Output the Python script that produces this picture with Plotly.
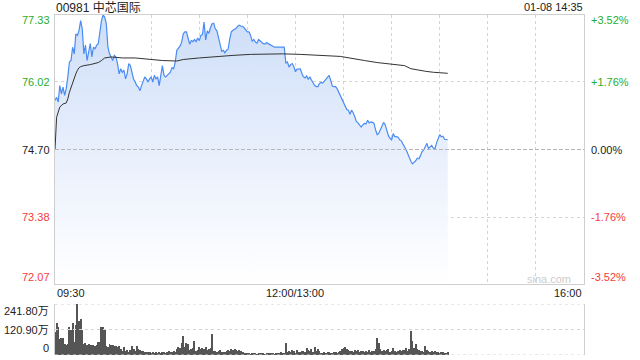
import plotly.graph_objects as go

title_text = "00981 中芯国际"
stamp_text = "01-08 14:35"
prev_close = 74.70
price_ticks = [77.33, 76.02, 74.70, 73.38, 72.07]
price_tick_labels = ["77.33", "76.02", "74.70", "73.38", "72.07"]
pct_tick_labels = ["+3.52%", "+1.76%", "0.00%", "-1.76%", "-3.52%"]
tick_colors = ["#1fae2e", "#1fae2e", "#222222", "#f23c3c", "#f23c3c"]
time_pos = [0, 150, 330]
time_labels = ["09:30", "12:00/13:00", "16:00"]
vol_ticks = [241.80, 120.90, 0]
vol_tick_labels = ["241.80万", "120.90万", "0"]

# minute-by-minute last price, 09:30 .. 14:35 (minutes since open, lunch removed)
price = [
    75.66, 75.72, 75.63, 75.95, 75.79, 75.92, 75.76, 75.89, 76.12, 76.41,
    76.44, 76.70, 76.57, 76.96, 76.93, 77.03, 77.22, 77.06, 76.57, 76.74,
    76.44, 76.64, 76.77, 76.51, 76.70, 76.67, 76.74, 76.77, 77.03, 77.22,
    77.33, 77.29, 77.16, 76.70, 76.57, 76.51, 76.44, 76.54, 76.51, 76.38,
    76.18, 76.28, 76.21, 76.25, 76.08, 76.18, 76.38, 76.34, 76.21, 76.08,
    76.02, 75.95, 75.92, 75.85, 75.95, 76.05, 76.12, 76.08, 76.02, 76.08,
    76.12, 76.02, 76.15, 76.08, 76.12, 75.95, 76.18, 76.34, 76.15, 76.12,
    76.15, 76.18, 76.21, 76.30, 76.28, 76.41, 76.64, 76.68, 76.72, 76.80,
    76.96, 77.00, 77.00, 76.88, 76.76, 76.83, 76.81, 76.85, 76.81, 76.88,
    76.83, 76.93, 76.95, 77.19, 76.84, 77.02, 76.97, 77.08, 77.16, 77.17,
    77.06, 77.02, 76.90, 76.74, 76.62, 76.64, 76.59, 76.64, 76.66, 76.86,
    77.00, 77.03, 77.05, 77.07, 77.11, 77.13, 77.11, 77.11, 77.08, 77.03,
    77.00, 77.00, 76.93, 76.82, 76.85, 76.80, 76.78, 76.85, 76.82, 76.80,
    76.77, 76.76, 76.79, 76.77, 76.75, 76.73, 76.71, 76.70, 76.70, 76.70,
    76.70, 76.70, 76.70, 76.70, 76.39, 76.41, 76.31, 76.36, 76.38, 76.32,
    76.22, 76.27, 76.27, 76.28, 76.19, 76.12, 76.10, 76.14, 76.07, 76.12,
    76.06, 76.01, 75.95, 75.93, 75.93, 75.99, 76.01, 76.00, 76.04, 76.08,
    76.12, 76.15, 76.05, 75.94, 75.93, 75.93, 75.89, 75.82, 75.75, 75.67,
    75.62, 75.54, 75.48, 75.47, 75.39, 75.47, 75.42, 75.34, 75.25, 75.22,
    75.17, 75.14, 75.18, 75.21, 75.20, 75.27, 75.22, 75.24, 75.23, 75.21,
    75.08, 74.99, 75.02, 75.10, 75.18, 75.23, 75.18, 75.05, 74.97, 74.92,
    74.89, 75.01, 74.95, 74.95, 74.94, 74.89, 74.87, 74.81, 74.76, 74.70,
    74.62, 74.54, 74.47, 74.42, 74.45, 74.48, 74.53, 74.52, 74.58, 74.66,
    74.69, 74.77, 74.82, 74.72, 74.75, 74.78, 74.73, 74.71, 74.83, 74.93,
    74.99, 74.95, 74.96, 74.90, 74.89, 74.89,
]

# volume per minute, in 万 shares
volume = [
    107, 151, 135, 74, 82, 82, 53, 49, 53, 132,
    118, 151, 61, 143, 242, 160, 171, 118, 53, 56,
    49, 53, 49, 48, 49, 44, 48, 61, 61, 135,
    132, 122, 44, 36, 53, 49, 49, 44, 41, 36,
    44, 28, 20, 36, 20, 23, 16, 23, 44, 28,
    20, 44, 30, 25, 18, 20, 15, 14, 12, 16,
    10, 12, 9, 14, 11, 13, 10, 12, 15, 10,
    14, 18, 13, 16, 20, 15, 28, 40, 35, 55,
    90, 40, 58, 50, 25, 30, 35, 66, 20, 25,
    40, 28, 35, 30, 40, 25, 30, 35, 99, 20,
    20, 15, 18, 22, 14, 16, 12, 18, 25, 20,
    28, 22, 30, 25, 20, 22, 18, 15, 10, 6,
    8, 5, 4, 6, 5, 7, 4, 5, 6, 8,
    5, 4, 6, 5, 7, 5, 6, 4, 8, 6,
    10, 12, 8, 8, 58, 15, 20, 12, 25, 18,
    10, 22, 15, 12, 18, 20, 14, 35, 25, 18,
    30, 15, 40, 20, 28, 18, 10, 8, 12, 10,
    15, 12, 8, 10, 12, 15, 10, 12, 20, 30,
    35, 40, 30, 22, 18, 20, 15, 22, 18, 25,
    15, 20, 18, 14, 20, 16, 22, 15, 18, 20,
    30, 79, 58, 30, 20, 25, 18, 22, 30, 15,
    20, 35, 18, 15, 20, 25, 18, 22, 25, 35,
    20, 30, 115, 66, 35, 50, 30, 25, 20, 18,
    15, 45, 22, 18, 15, 20, 15, 18, 12, 15,
    10, 12, 15, 8, 10, 12,
]

avg_minute = [0, 1, 3, 5, 7, 8, 9, 10, 11, 12, 13, 14, 15, 16, 18, 22, 25, 27, 29, 31,
              35, 42, 50, 56, 62, 67, 76, 80, 90, 101, 111, 122, 142, 153, 163, 178,
              193, 201, 218, 222, 231, 236, 245]
avg_price = [74.70, 75.33, 75.53, 75.59, 75.61, 75.69, 75.82, 75.92, 76.02, 76.11,
             76.18, 76.25, 76.30, 76.32, 76.34, 76.36, 76.38, 76.40, 76.44, 76.49,
             76.51, 76.49, 76.49, 76.47, 76.46, 76.44, 76.43, 76.46, 76.49, 76.52,
             76.54, 76.56, 76.57, 76.56, 76.54, 76.52, 76.44, 76.40, 76.34, 76.28,
             76.23, 76.21, 76.19]

minutes = list(range(len(price)))
vol_minutes = list(range(len(volume)))

W, H = 640, 360
def px(x):
    return x / W
def py(y):
    return 1 - y / H

FONT = "Arial, Liberation Sans, Noto Sans CJK SC, sans-serif"
GRID = "#d4d4d4"
BORDER = "#cfcfcf"

fig = go.Figure()

fig.add_trace(go.Scatter(
    x=minutes, y=price, mode="lines",
    line=dict(color="#4a8cf2", width=1.2),
    fill="tozeroy",
    fillgradient=dict(type="vertical", start=price_ticks[-1], stop=price_ticks[0],
                      colorscale=[[0, "#ffffff"], [0.5, "#e8effc"], [1, "#cddef8"]]),
    xaxis="x", yaxis="y", hoverinfo="skip", showlegend=False,
))
fig.add_trace(go.Scatter(
    x=avg_minute, y=avg_price, mode="lines",
    line=dict(color="#333333", width=1),
    xaxis="x", yaxis="y", hoverinfo="skip", showlegend=False,
))
fig.add_trace(go.Bar(
    x=vol_minutes, y=volume, width=0.62,
    marker=dict(color="#555555", line=dict(width=0)),
    xaxis="x2", yaxis="y2", hoverinfo="skip", showlegend=False,
))

xdom = [px(55), px(584)]
fig.update_layout(
    width=W, height=H,
    margin=dict(l=0, r=0, t=0, b=0),
    paper_bgcolor="white", plot_bgcolor="white",
    font=dict(family=FONT, size=11, color="#222"),
    bargap=0,
    xaxis=dict(domain=xdom, range=[0, 330], anchor="y",
               tickvals=list(range(30, 330, 30)), showticklabels=False, ticks="",
               showgrid=True, gridcolor=GRID, griddash="dot", gridwidth=1,
               showline=True, mirror=True, linecolor=BORDER, linewidth=1,
               zeroline=False, fixedrange=True),
    yaxis=dict(domain=[py(284), py(15)], range=[price_ticks[-1], price_ticks[0]],
               anchor="x", tickvals=[price_ticks[1], price_ticks[3]],
               showticklabels=False, ticks="",
               showgrid=True, gridcolor=GRID, griddash="dot", gridwidth=1,
               showline=True, mirror=True, linecolor=BORDER, linewidth=1,
               zeroline=False, fixedrange=True),
    xaxis2=dict(domain=xdom, range=[0, 330], anchor="y2",
                showticklabels=False, ticks="", showgrid=False,
                showline=False, zeroline=False, fixedrange=True),
    yaxis2=dict(domain=[py(355), py(304)], range=[0, vol_ticks[0]], anchor="x2",
                showticklabels=False, ticks="", showgrid=False,
                showline=True, mirror=True, linecolor=BORDER, linewidth=1,
                zeroline=False, fixedrange=True),
)

shapes = [dict(type="line", xref="x domain", yref="y", x0=0, x1=1,
               y0=prev_close, y1=prev_close,
               line=dict(color="#b5b5b5", width=1, dash="4px,2px"))]
for v in vol_ticks:
    shapes.append(dict(type="line", xref="x2 domain", yref="y2", x0=0, x1=1,
                       y0=v, y1=v, line=dict(color=GRID, width=1, dash="dot")))
fig.update_layout(shapes=shapes)

ann = []
ann.append(dict(text=title_text, xref="paper", yref="paper", x=px(54), y=py(7),
                xanchor="left", yanchor="middle", showarrow=False,
                font=dict(size=12, color="#222")))
ann.append(dict(text=stamp_text, xref="paper", yref="paper", x=px(585), y=py(7),
                xanchor="right", yanchor="middle", showarrow=False,
                font=dict(size=11, color="#222")))
shifts = [-5, 0, 0, 0, 7]
for v, lab, pl, c, s in zip(price_ticks, price_tick_labels, pct_tick_labels, tick_colors, shifts):
    ann.append(dict(text=lab, xref="paper", yref="y", x=px(52), y=v, yshift=s,
                    xanchor="right", yanchor="middle", showarrow=False,
                    font=dict(size=11, color=c)))
    ann.append(dict(text=pl, xref="paper", yref="y", x=px(589), y=v, yshift=s,
                    xanchor="left", yanchor="middle", showarrow=False,
                    font=dict(size=11, color=c)))
anchors = ["left", "center", "right"]
for t, lab, a in zip(time_pos, time_labels, anchors):
    ann.append(dict(text=lab, xref="x", yref="paper", x=t, y=py(293),
                    xanchor=a, yanchor="middle", showarrow=False,
                    font=dict(size=11, color="#222")))
vshifts = [-7, 0, 7]
for v, lab, s in zip(vol_ticks, vol_tick_labels, vshifts):
    ann.append(dict(text=lab, xref="paper", yref="y2", x=px(51), y=v, yshift=s,
                    xanchor="right", yanchor="middle", showarrow=False,
                    font=dict(size=11, color="#222")))
ann.append(dict(text="sina.com", xref="paper", yref="paper", x=px(573), y=py(279),
                xanchor="right", yanchor="middle", showarrow=False,
                font=dict(size=11, color="#cccccc")))
fig.update_layout(annotations=ann)

fig.write_html("out.html")
